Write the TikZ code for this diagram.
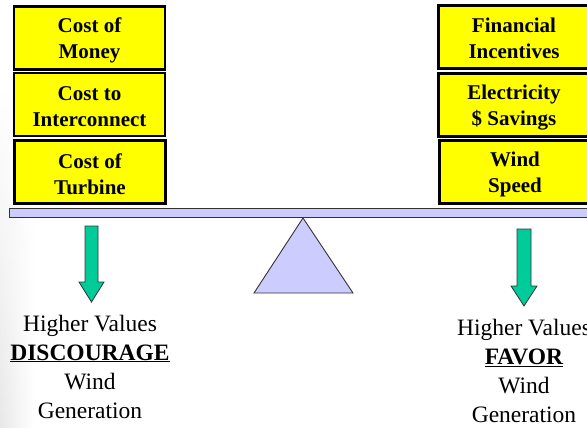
\documentclass[tikz,border=0pt]{standalone}
\usepackage{fontspec}
\setmainfont{Liberation Serif}
\usetikzlibrary{fadings}
\definecolor{beamcol}{HTML}{CCCCFF}
\definecolor{arrowcol}{HTML}{00CC99}
\definecolor{boxcol}{HTML}{FFFF00}
\begin{document}
\begin{tikzpicture}[x=1pt,y=-1pt,
  factor/.style={draw=black,line width=2.6pt,fill=boxcol,minimum width=151pt,minimum height=63pt,inner sep=0pt},
  factortext/.style={align=center,font=\fontsize{21}{25.5}\selectfont\bfseries,inner sep=0pt},
  support/.style={draw=black!80,line width=0.9pt,fill=beamcol},
  downarrow/.style={draw=black!80,line width=0.8pt,fill=arrowcol},
  effect/.style={align=center,font=\fontsize{23.5}{29}\selectfont,inner sep=0pt}]
\useasboundingbox (0,0) rectangle (587,428);
\clip (0,0) rectangle (587,428);
\fill[white] (0,0) rectangle (587,428);
\shade[left color=black!9, right color=white, path fading=north] (0,90) rectangle (34,428);
% left boxes
\node[factor] (money) at (89.5,38) {};
\node[factor] (inter) at (89.5,104.5) {};
\node[factor] (turb) at (90,172) {};
\node[factortext] (moneyt) at ([yshift=-2.5pt]money.center) {Cost of\\Money};
\node[factortext] (intert) at ([yshift=-2pt]inter.center) {Cost to\\Interconnect};
\node[factortext] (turbt) at ([yshift=-2pt]turb.center) {Cost of\\Turbine};
% right boxes
\node[factor] (fin) at (514,37) {};
\node[factor] (elec) at (514,105) {};
\node[factor] (wind) at (515,172) {};
\node[factortext] (fint) at ([yshift=-1.5pt]fin.center) {Financial\\Incentives};
\node[factortext] (elect) at ([yshift=-2.5pt]elec.center) {Electricity\\\$ Savings};
\node[factortext] (windt) at ([yshift=-2.5pt]wind.center) {Wind\\Speed};
% beam
\draw[support] (9,208.5) rectangle (600,217);
% fulcrum
\draw[support] (303,218) -- (353,293) -- (254,293) -- cycle;
% arrows
\draw[downarrow] (85,226) -- (98,226) -- (98,282) -- (104,282) -- (91.5,302) -- (79,282) -- (85,282) -- cycle;
\draw[downarrow] (517,229) -- (531,229) -- (531,286) -- (537,286) -- (524,306) -- (511,286) -- (517,286) -- cycle;
% texts
\node[effect] (disc) at (90,366.5) {Higher Values\\\textbf{\underline{DISCOURAGE}}\\Wind\\Generation};
\node[effect] (favor) at (524,370.5) {Higher Values\\\textbf{\underline{FAVOR}}\\Wind\\Generation};
\end{tikzpicture}
\end{document}
